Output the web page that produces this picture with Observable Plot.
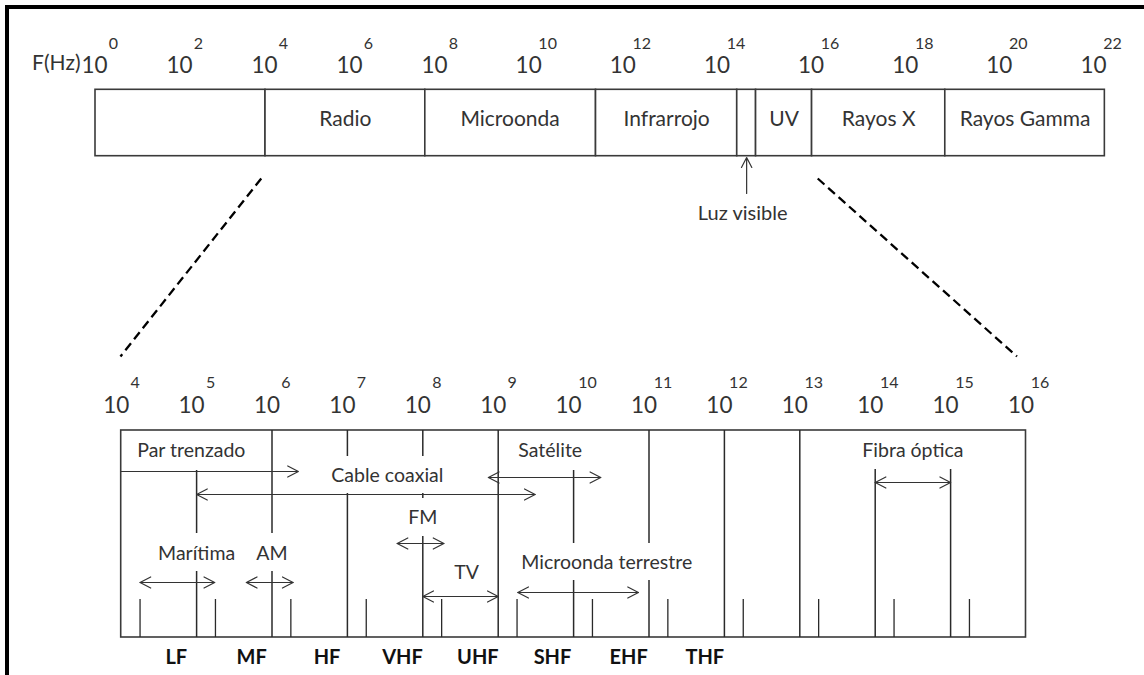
<!DOCTYPE html>
<html><head><meta charset="utf-8">
<script src="https://cdn.jsdelivr.net/npm/d3@7"></script>
<script src="https://cdn.jsdelivr.net/npm/@observablehq/plot@0.6"></script>
<style>
html,body{margin:0;padding:0;background:#fff;}
#wrap{position:relative;width:1144px;height:675px;overflow:hidden;background:#fff;}
#wrap svg{position:absolute;left:0;top:0;}
#frame{position:absolute;left:5px;top:5px;width:1200px;height:700px;border-top:4px solid #000;border-left:4px solid #000;}
</style></head><body><div id="wrap"><div id="frame"></div></div>
<script>
// ---------- DATA ----------
// Upper spectrum (exponent of 10, in Hz)
const topExponents = [0, 2, 4, 6, 8, 10, 12, 14, 16, 18, 20, 22];
const topBandNames  = ["", "Radio", "Microonda", "Infrarrojo", "", "UV", "Rayos X", "Rayos Gamma"];
const topBandStarts = [0, 4, 7.76, 11.41, 14.41, 14.81, 16, 18.83];
const topBandEnds   = [4, 7.76, 11.41, 14.41, 14.81, 16, 18.83, 22.22];
const visibleIndex = 4;
const visibleLabel = "Luz visible";
const axisTitle = "F(Hz)";

// Zoom connector lines (top exponent -> bottom exponent)
const zoomTopFrom = [3.9, 16.12];
const zoomBottomTo = [3.99, 15.88];

// Lower (radio) spectrum
const bottomExponents = [4, 5, 6, 7, 8, 9, 10, 11, 12, 13, 14, 15, 16];
const decadeLines = [5, 6, 7, 8, 9, 10, 11, 12, 13, 14, 15];
const minorTicks = [4.25, 5.25, 6.25, 7.25, 8.25, 9.25, 10.25, 11.25, 12.25, 13.25, 14.25, 15.25];
const bandNames = ["LF", "MF", "HF", "VHF", "UHF", "SHF", "EHF", "THF"];
const bandCenters = [4.73, 5.73, 6.73, 7.73, 8.73, 9.72, 10.73, 11.74];

// Transmission media / services: ranges (exponents)
const services     = ["Par trenzado", "Cable coaxial", "Satélite", "FM", "TV", "Marítima", "AM", "Microonda terrestre", "Fibra óptica"];
const serviceFrom  = [4, 5, 8.87, 7.66, 8.0, 4.25, 5.66, 9.26, 14];
const serviceTo    = [6.35, 9.49, 10.36, 8.28, 9.0, 5.24, 6.28, 10.86, 15];
const serviceLabel = [4.93, 7.53, 9.69, 8.0, 8.58, 5.0, 6.0, 10.44, 14.5];
const serviceDouble = [false, true, true, true, true, true, true, true, true];

// ---------- LAYOUT (pixels) ----------
const W = 1144, H = 675;
const FONT = "Lato, 'Open Sans', sans-serif";
const INK = "#333";
const topRow = {expY: 43, tenY: 65, boxTop: 89.3, boxBottom: 155.7, labelY: 118.5, arrowFrom: 193, arrowTo: 157, visY: 213};
const bot = {expY: 382.5, tenY: 405, boxTop: 430, boxBottom: 637, minorTop: 599, bandY: 657.5, zoomTop: 178, zoomBottom: 356};
// label / arrow rows for each service (same order as services)
const serviceLabelY = [450, 475, 450, 517, 572, 553, 553, 562, 450.5];
const serviceArrowY = [471, 494, 477, 543, 596, 582, 582, 592, 482];
// vertical gaps of decade lines (where labels sit)
const decadeSegments = {
  5: [[470, 533], [571, 637]],
  6: [[430, 533], [571, 637]],
  7: [[430, 456], [493, 637]],
  8: [[430, 456], [493, 498], [536, 637]],
  9: [[430, 637]],
  10: [[470, 543], [580, 637]],
  11: [[430, 543], [580, 637]],
  12: [[430, 637]],
  13: [[430, 637]],
  14: [[469, 637]],
  15: [[469, 637]]
};

const xTopOpts = {type: "linear", domain: [0, 8, 22], range: [95, 435, 1094]};
const xBotOpts = {type: "linear", domain: [4, 16], range: [120.7, 1025.5]};
const yOpts = {type: "linear", domain: [0, H], range: [0, H]};
const topX = Plot.scale({x: xTopOpts});
const botX = Plot.scale({x: xBotOpts});

const base = {
  width: W, height: H, marginLeft: 0, marginRight: 0, marginTop: 0, marginBottom: 0,
  style: {fontFamily: FONT, color: INK, background: "transparent", overflow: "visible"}
};

// ---------- TOP PLOT ----------
const topBands = topBandNames.map((name, i) => ({name, x1: topBandStarts[i], x2: topBandEnds[i]}));
const topPlot = Plot.plot({
  ...base,
  x: {...xTopOpts, axis: null},
  y: {...yOpts, axis: null},
  marks: [
    Plot.rect(topBands, {x1: "x1", x2: "x2", y1: topRow.boxTop, y2: topRow.boxBottom, fill: "white", stroke: "#3a3a3a", strokeWidth: 1.6}),
    Plot.text(topBands, {x: d => (d.x1 + d.x2) / 2, y: topRow.labelY, text: "name", fontSize: 21}),
    Plot.text(topExponents, {x: d => d, y: topRow.tenY, text: () => "10", fontSize: 22.5, dx: -1}),
    Plot.text(topExponents, {x: d => d, y: topRow.expY, text: d => String(d), fontSize: 16, dx: 18}),
    Plot.text([axisTitle], {x: topExponents[0], y: topRow.tenY - 2, text: d => d, fontSize: 21, textAnchor: "end", dx: -15}),
    Plot.arrow([topBands[visibleIndex]], {x: d => (d.x1 + d.x2) / 2, y1: topRow.arrowFrom, y2: topRow.arrowTo, stroke: INK, strokeWidth: 1.2, headLength: 14, headAngle: 55}),
    Plot.text([topBands[visibleIndex]], {x: d => (d.x1 + d.x2) / 2, y: topRow.visY, text: () => visibleLabel, fontSize: 20, dx: -4})
  ]
});

// ---------- BOTTOM PLOT ----------
const segs = decadeLines.flatMap(e => decadeSegments[e].map(([y1, y2]) => ({e, y1, y2})));
const svc = services.map((name, i) => ({name, from: serviceFrom[i], to: serviceTo[i], at: serviceLabel[i], ly: serviceLabelY[i], ay: serviceArrowY[i], dbl: serviceDouble[i]}));
const zooms = zoomTopFrom.map((t, i) => ({x1: botX.invert(topX.apply(t)), x2: zoomBottomTo[i]}));
const arrowStyle = {stroke: INK, strokeWidth: 1.2, headLength: 15, headAngle: 55};

const botPlot = Plot.plot({
  ...base,
  x: {...xBotOpts, axis: null},
  y: {...yOpts, axis: null},
  marks: [
    Plot.link(zooms, {x1: "x1", x2: "x2", y1: bot.zoomTop, y2: bot.zoomBottom, stroke: "#000", strokeWidth: 2.3, strokeDasharray: "9,5"}),
    Plot.rect([bottomExponents], {x1: d => d[0], x2: d => d[d.length - 1], y1: bot.boxTop, y2: bot.boxBottom, fill: "none", stroke: "#3a3a3a", strokeWidth: 1.6}),
    Plot.ruleX(segs, {x: "e", y1: "y1", y2: "y2", stroke: "#2a2a2a", strokeWidth: 1.5}),
    Plot.ruleX(minorTicks, {x: d => d, y1: bot.minorTop, y2: bot.boxBottom, stroke: "#2a2a2a", strokeWidth: 1.3}),
    Plot.text(bottomExponents, {x: d => d, y: bot.tenY, text: () => "10", fontSize: 22.5, dx: -5}),
    Plot.text(bottomExponents, {x: d => d, y: bot.expY, text: d => String(d), fontSize: 16, dx: 14}),
    Plot.text(bandNames, {x: (d, i) => bandCenters[i], y: bot.bandY, text: d => d, fontSize: 20, fontWeight: "bold", fill: "#111"}),
    Plot.arrow(svc, {x1: "from", x2: "to", y: "ay", ...arrowStyle}),
    Plot.arrow(svc.filter(d => d.dbl), {x1: "to", x2: "from", y: "ay", ...arrowStyle}),
    Plot.text(svc, {x: "at", y: "ly", text: "name", fontSize: 19.5})
  ]
});

const wrap = document.getElementById("wrap");
wrap.appendChild(topPlot);
wrap.appendChild(botPlot);
</script></body></html>
